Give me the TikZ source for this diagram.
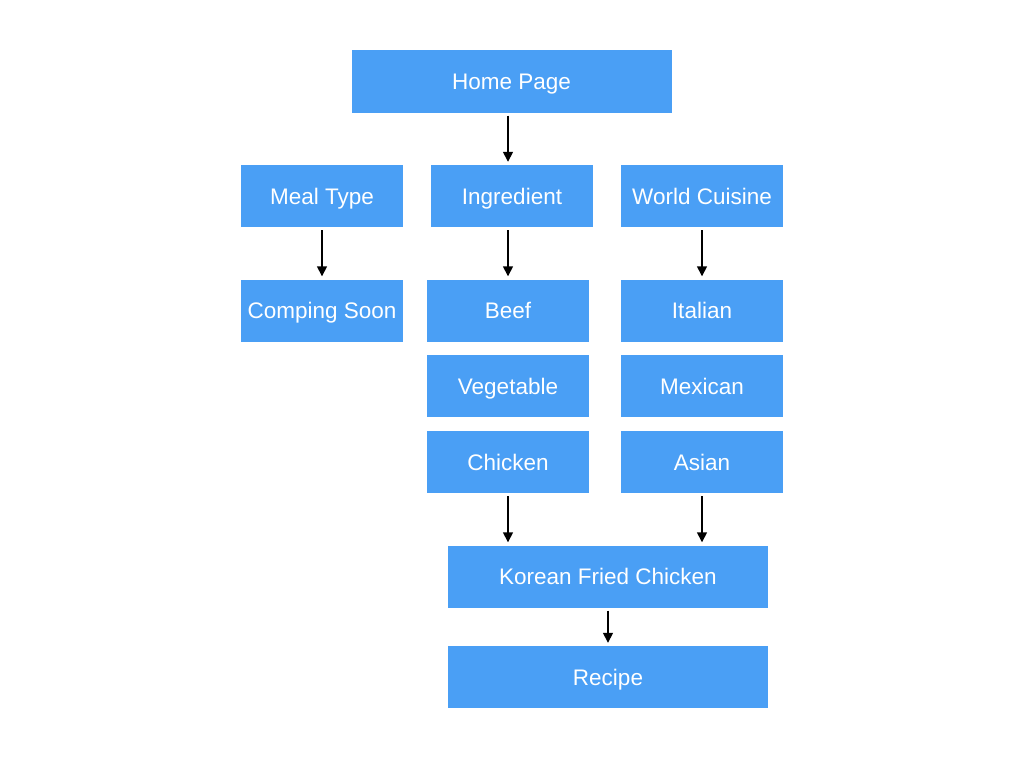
\documentclass[tikz,border=0pt]{standalone}
\usepackage{fontspec}
\setmainfont{Liberation Sans}
\usetikzlibrary{arrows.meta}
\definecolor{boxblue}{HTML}{4A9FF5}
\begin{document}
\begin{tikzpicture}[x=1pt,y=-1pt,
  box/.style={fill=boxblue, draw=none, text=white, font=\fontsize{22.5}{26}\selectfont, inner sep=0pt, text height=16.1pt, text depth=0pt, minimum height=62pt},
  wide/.style={box, minimum width=320pt},
  narrow/.style={box, minimum width=162pt},
  link/.style={-{Triangle[width=10pt,length=10pt]}, line width=1.5pt, black, shorten <=3pt, shorten >=3pt}]
\useasboundingbox (0,0) rectangle (1024,768);
\fill[white] (0,0) rectangle (1024,768);
\node[wide] (home) at (511.5,81.5) {Home Page};
\node[narrow] (meal) at (322,196) {Meal Type};
\node[narrow] (ing) at (512,196) {Ingredient};
\node[narrow] (world) at (702,196) {World Cuisine};
\node[narrow] (soon) at (322,310.5) {Comping Soon};
\node[narrow] (beef) at (508,310.5) {Beef};
\node[narrow] (veg) at (508,386) {Vegetable};
\node[narrow] (chicken) at (508,462) {Chicken};
\node[narrow] (italian) at (702,310.5) {Italian};
\node[narrow] (mexican) at (702,386) {Mexican};
\node[narrow] (asian) at (702,462) {Asian};
\node[wide] (kfc) at (608,576.5) {Korean Fried Chicken};
\node[wide] (recipe) at (608,677) {Recipe};
\draw[link] (home.south -| beef.north) -- (ing.north -| beef.north);
\draw[link] (meal.south) -- (soon.north);
\draw[link] (ing.south -| beef.north) -- (beef.north);
\draw[link] (world.south) -- (italian.north);
\draw[link] (chicken.south) -- (kfc.north -| chicken.south);
\draw[link] (asian.south) -- (kfc.north -| asian.south);
\draw[link] (kfc.south) -- (recipe.north);
\end{tikzpicture}
\end{document}
